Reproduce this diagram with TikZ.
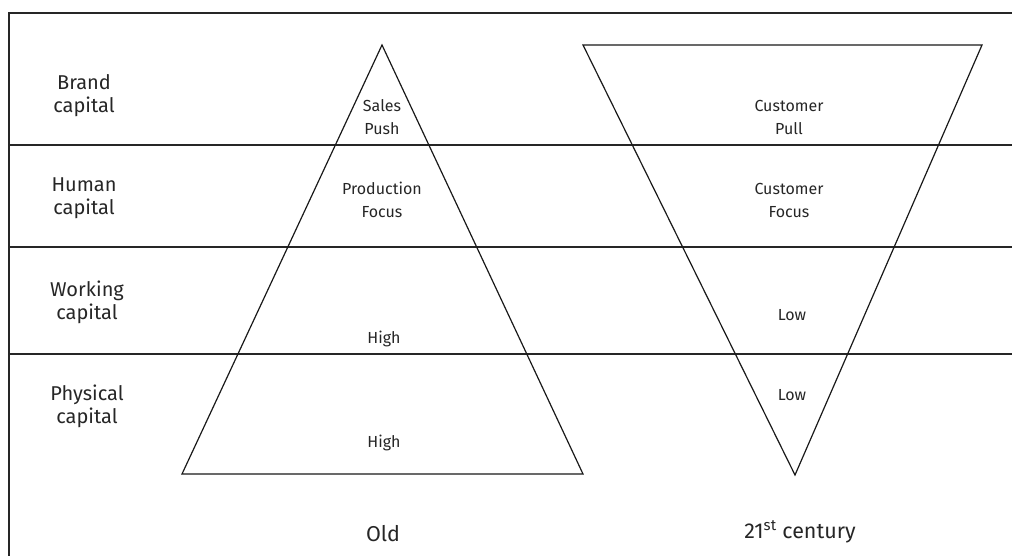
\documentclass[tikz,border=0pt]{standalone}
\usepackage{fontspec}
\setmainfont{Fira Sans}
\begin{document}
\begin{tikzpicture}[x=1pt,y=-1pt,
  frameline/.style={draw=black!85,line width=2pt},
  bandline/.style={draw=black!85,line width=1.6pt},
  triline/.style={draw=black!90,line width=1.2pt,line join=miter},
  rowlabel/.style={align=center,text=black!85,font=\fontsize{20}{23}\selectfont,inner sep=0pt},
  celllabel/.style={align=center,text=black!85,font=\fontsize{16}{23}\selectfont,inner sep=0pt},
  footlabel/.style={text=black!85,font=\fontsize{21.5}{24}\selectfont,inner sep=0pt}]
\useasboundingbox (0,0) rectangle (1012,556);
% frame
\coordinate (ftl) at (9,13);
\coordinate (ftr) at (1012,13);
\coordinate (fbl) at (9,556);
\draw[frameline] (ftr) -- (ftl) -- (fbl);
% bands
\coordinate (b1l) at (9,145); \coordinate (b1r) at (1012,145);
\coordinate (b2l) at (9,247); \coordinate (b2r) at (1012,247);
\coordinate (b3l) at (9,354); \coordinate (b3r) at (1012,354);
\draw[bandline] (b1l) -- (b1r);
\draw[bandline] (b2l) -- (b2r);
\draw[bandline] (b3l) -- (b3r);
% old triangle
\coordinate (oa) at (382,45);
\coordinate (ob1) at (182,474);
\coordinate (ob2) at (583,474);
\draw[triline] (oa) -- (ob1) -- (ob2) -- cycle;
% new triangle
\coordinate (na1) at (583,45);
\coordinate (na2) at (982,45);
\coordinate (nb) at (795,475);
\draw[triline] (na1) -- (na2) -- (nb) -- cycle;
% row labels
\node[rowlabel] (r1) at (84,96) {Brand\\capital};
\node[rowlabel] (r2) at (84,198) {Human\\capital};
\node[rowlabel] (r3) at (87,302) {Working\\capital};
\node[rowlabel] (r4) at (87,406) {Physical\\capital};
% old cells
\node[celllabel] (o1) at (382,117) {Sales\\Push};
\node[celllabel] (o2) at (382,200) {Production\\Focus};
\node[celllabel] (o3) at (384,339) {High};
\node[celllabel] (o4) at (384,443) {High};
% new cells
\node[celllabel] (n1) at (789,117) {Customer\\Pull};
\node[celllabel] (n2) at (789,200) {Customer\\Focus};
\node[celllabel] (n3) at (792,315) {Low};
\node[celllabel] (n4) at (792,395) {Low};
% footers
\node[footlabel] (f1) at (383,534) {Old};
\node[footlabel] (f2) at (800,532) {21\textsuperscript{st} century};
\end{tikzpicture}
\end{document}
